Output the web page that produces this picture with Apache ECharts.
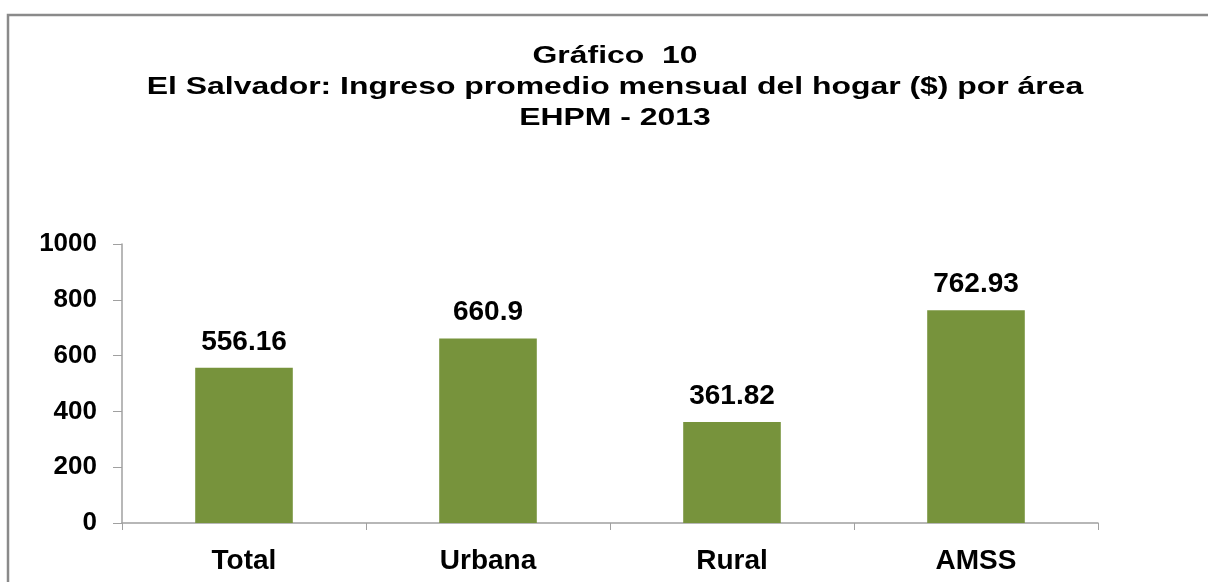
<!DOCTYPE html>
<html>
<head>
<meta charset="utf-8">
<script src="https://cdn.jsdelivr.net/npm/echarts@6/dist/echarts.min.js"></script>
<style>
  html, body { margin: 0; padding: 0; background: #fff; }
  #chart { width: 1208px; height: 582px; }
</style>
</head>
<body>
<div id="chart"></div>
<script>
var titleLines = ['Gráfico  10', 'El Salvador: Ingreso promedio mensual del hogar ($) por área', 'EHPM - 2013'];
var areas = ['Total', 'Urbana', 'Rural', 'AMSS'];
var ingreso = [556.16, 660.9, 361.82, 762.93];
var yTicks = [0, 200, 400, 600, 800, 1000];

var font = '"Liberation Sans", Arial, sans-serif';
var chart = echarts.init(document.getElementById('chart'));

// title lines are drawn as text elements, a little wider than normal like the original
var titleY = [56, 87, 118];
var graphics = [{
    type: 'rect',
    shape: { x: 8, y: 15, width: 1400, height: 800 },
    style: { fill: 'none', stroke: '#8a8a8a', lineWidth: 2.5 },
    silent: true
}];
titleLines.forEach(function (t, i) {
    graphics.push({
        type: 'text',
        x: 615,
        y: titleY[i],
        scaleX: 1.33,
        style: {
            text: t,
            align: 'center',
            verticalAlign: 'middle',
            font: 'bold 24px ' + font,
            fill: '#000'
        },
        silent: true
    });
});

chart.setOption({
    animation: false,
    backgroundColor: '#ffffff',
    graphic: graphics,
    grid: { left: 122, right: 110, top: 244, bottom: 59, containLabel: false },
    xAxis: {
        type: 'category',
        data: areas,
        axisLine: { lineStyle: { color: '#a0a0a0', width: 1.5 } },
        axisTick: { show: true, length: 7, lineStyle: { color: '#a0a0a0' } },
        axisLabel: {
            margin: 24,
            fontFamily: font,
            fontWeight: 'bold',
            fontSize: 28,
            color: '#000'
        }
    },
    yAxis: {
        type: 'value',
        min: yTicks[0],
        max: yTicks[yTicks.length - 1],
        interval: 200,
        splitLine: { show: false },
        axisLine: { show: true, lineStyle: { color: '#a0a0a0', width: 1.5 } },
        axisTick: { show: true, length: 9, lineStyle: { color: '#a0a0a0' } },
        axisLabel: {
            margin: 25,
            fontFamily: font,
            fontWeight: 'bold',
            fontSize: 26,
            color: '#000',
            formatter: function (v) { return String(v); }
        }
    },
    series: [{
        type: 'bar',
        data: ingreso,
        barWidth: '40%',
        itemStyle: { color: '#77933C' },
        label: {
            show: true,
            position: 'top',
            distance: 12,
            fontFamily: font,
            fontWeight: 'bold',
            fontSize: 28,
            color: '#000',
            formatter: function (p) { return String(p.value); }
        }
    }]
});
</script>
</body>
</html>
